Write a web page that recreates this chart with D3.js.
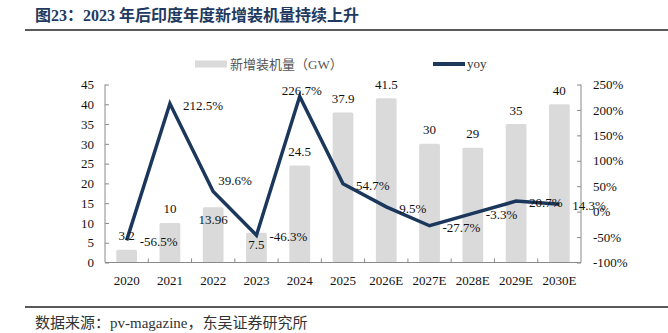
<!DOCTYPE html>
<html>
<head>
<meta charset="utf-8">
<script src="https://cdn.jsdelivr.net/npm/d3@7"></script>
<style>
  body { margin: 0; background: #fff; }
  text { font-family: "Liberation Serif", "Noto Sans CJK SC", serif; }
</style>
</head>
<body>
<script>
const width = 668, height = 333;

// data
const years = ["2020", "2021", "2022", "2023", "2024", "2025", "2026E", "2027E", "2028E", "2029E", "2030E"];
const capacity = [3.2, 10, 13.96, 7.5, 24.5, 37.9, 41.5, 30, 29, 35, 40];
const yoy = [-56.5, 212.5, 39.6, -46.3, 226.7, 54.7, 9.5, -27.7, -3.3, 20.7, 14.3];
const leftTicks = [0, 5, 10, 15, 20, 25, 30, 35, 40, 45];
const rightTicks = [-100, -50, 0, 50, 100, 150, 200, 250];
// where each data label sits
const barLabelPos = ["top", "top", "inside", "inside", "top", "top", "top", "top", "top", "top", "top"];
const yoyLabelPos = ["right", "right", "upright", "right", "top", "right", "right", "right", "right", "right", "right"];

const navy = "#1c375c", barColor = "#dadada", axisColor = "#8a8a8a";

const svg = d3.select("body").append("svg")
  .attr("width", width)
  .attr("height", height);

// title + rules
svg.append("text")
  .attr("x", 35).attr("y", 15)
  .attr("dominant-baseline", "central")
  .attr("font-size", 16).attr("font-weight", "bold")
  .attr("fill", "#1f3a60")
  .text("图23：2023 年后印度年度新增装机量持续上升");

svg.append("line").attr("x1", 25).attr("x2", width).attr("y1", 30).attr("y2", 30)
  .attr("stroke", "#222").attr("stroke-width", 1.5);
svg.append("line").attr("x1", 25).attr("x2", width).attr("y1", 307).attr("y2", 307)
  .attr("stroke", "#222").attr("stroke-width", 1.5);

svg.append("text")
  .attr("x", 35).attr("y", 323)
  .attr("dominant-baseline", "central")
  .attr("font-size", 15).attr("fill", "#333")
  .text("数据来源：pv-magazine，东吴证券研究所");

// plot area
const plotL = 105, plotR = 581, plotT = 84.5, plotB = 262.5;

const x = d3.scaleBand()
  .domain(years)
  .range([plotL, plotR])
  .paddingInner(0.52)
  .paddingOuter(0.26);

const yL = d3.scaleLinear().domain([0, 45]).range([plotB, plotT]);
const yR = d3.scaleLinear().domain([-100, 250]).range([plotB, plotT]);

// bars
svg.selectAll("rect.bar")
  .data(capacity)
  .enter().append("rect")
    .attr("class", "bar")
    .attr("x", (d, i) => x(years[i]))
    .attr("width", x.bandwidth())
    .attr("y", d => yL(d))
    .attr("height", d => yL(0) - yL(d))
    .attr("rx", 1.5)
    .attr("fill", barColor);

// axes
const gL = svg.append("g")
  .attr("transform", `translate(${plotL},0)`)
  .call(d3.axisRight(yL).tickValues(leftTicks).tickSize(4).tickFormat(d3.format("d")));
gL.selectAll("text").attr("x", -11).attr("text-anchor", "end");

const gR = svg.append("g")
  .attr("transform", `translate(${plotR},0)`)
  .call(d3.axisLeft(yR).tickValues(rightTicks).tickSize(4).tickFormat(d => d + "%"));
gR.selectAll("text").attr("x", 12).attr("text-anchor", "start");

const gX = svg.append("g")
  .attr("transform", `translate(0,${plotB})`)
  .call(d3.axisBottom(x).tickSize(0).tickPadding(13));

// tick marks between categories, pointing up
gX.selectAll("line.sep")
  .data(years.slice(1))
  .enter().append("line")
    .attr("class", "sep")
    .attr("x1", d => x(d) - x.step() * x.paddingInner() / 2)
    .attr("x2", d => x(d) - x.step() * x.paddingInner() / 2)
    .attr("y1", 0).attr("y2", -4);

[gL, gR, gX].forEach(g => {
  g.selectAll("line").attr("stroke", axisColor);
  g.selectAll("text").attr("font-size", 13).attr("fill", "#111")
    .attr("font-family", "Liberation Serif");
  g.select(".domain").attr("stroke", axisColor);
});
gL.select(".domain").attr("d", `M0,${plotT}V${plotB}`);
gR.select(".domain").attr("d", `M0,${plotT}V${plotB}`);
gX.select(".domain").attr("d", `M${plotL},0H${plotR}`);

// yoy line
const cx = i => x(years[i]) + x.bandwidth() / 2;

svg.append("path")
  .datum(yoy)
  .attr("fill", "none")
  .attr("stroke", navy)
  .attr("stroke-width", 3.5)
  .attr("d", d3.line().x((d, i) => cx(i)).y(d => yR(d)));

// bar labels
svg.selectAll("text.barlab")
  .data(capacity)
  .enter().append("text")
    .attr("class", "barlab")
    .attr("x", (d, i) => cx(i))
    .attr("y", (d, i) => yL(d) + (barLabelPos[i] === "inside" ? 12 : -14))
    .attr("text-anchor", "middle")
    .attr("dominant-baseline", "central")
    .attr("font-size", 13).attr("fill", "#111")
    .text(d => d);

// yoy labels
svg.selectAll("text.yoylab")
  .data(yoy)
  .enter().append("text")
    .attr("class", "yoylab")
    .attr("x", (d, i) => {
      const p = yoyLabelPos[i];
      return cx(i) + (p === "right" ? 13 : p === "upright" ? 5 : 2);
    })
    .attr("y", (d, i) => {
      const p = yoyLabelPos[i];
      return yR(d) + (p === "right" ? 1.5 : p === "upright" ? -11 : -6);
    })
    .attr("text-anchor", (d, i) => yoyLabelPos[i] === "top" ? "middle" : "start")
    .attr("dominant-baseline", "central")
    .attr("font-size", 13).attr("fill", "#111")
    .text(d => d.toFixed(1) + "%");

// legend
const lg = svg.append("g");
lg.append("rect").attr("x", 195).attr("y", 60.5).attr("width", 32).attr("height", 7)
  .attr("fill", barColor);
lg.append("text").attr("x", 230).attr("y", 64)
  .attr("dominant-baseline", "central")
  .attr("font-size", 13).attr("fill", "#555")
  .text("新增装机量（GW）");
lg.append("line").attr("x1", 433).attr("x2", 465).attr("y1", 64).attr("y2", 64)
  .attr("stroke", navy).attr("stroke-width", 4);
lg.append("text").attr("x", 467).attr("y", 63)
  .attr("dominant-baseline", "central")
  .attr("font-size", 13).attr("fill", "#333")
  .text("yoy");
</script>
</body>
</html>
